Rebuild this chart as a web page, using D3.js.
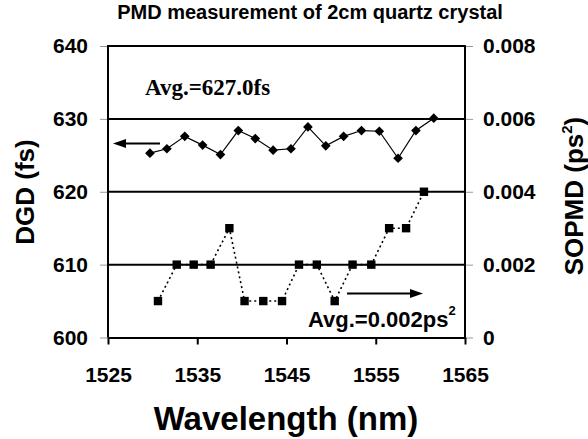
<!DOCTYPE html>
<html>
<head>
<meta charset="utf-8">
<script src="https://cdn.jsdelivr.net/npm/d3@7"></script>
<style>
  body { margin: 0; background: #fff; }
  text { font-family: "Liberation Sans", Arial, sans-serif; font-weight: bold; fill: #000; }
</style>
</head>
<body>
<script>
// wavelength (nm) and DGD (fs), left axis
var dgdWl = [1529.7, 1531.6, 1533.6, 1535.6, 1537.6, 1539.6, 1541.5, 1543.5, 1545.5,
             1547.4, 1549.4, 1551.4, 1553.4, 1555.4, 1557.5, 1559.5, 1561.5];
var dgd = [625.3, 625.9, 627.6, 626.4, 625.1, 628.4, 627.3, 625.7, 625.9,
           628.9, 626.3, 627.6, 628.4, 628.3, 624.6, 628.4, 630.1];

// wavelength (nm) and SOPMD (ps^2), right axis
var sopmdWl = [1530.6, 1532.7, 1534.6, 1536.5, 1538.6, 1540.3, 1542.4, 1544.5,
               1546.4, 1548.4, 1550.4, 1552.4, 1554.5, 1556.5, 1558.4, 1560.4];
var sopmd = [0.001, 0.002, 0.002, 0.002, 0.003, 0.001, 0.001, 0.001,
             0.002, 0.002, 0.001, 0.002, 0.002, 0.003, 0.003, 0.004];

var xTicks = [1525, 1535, 1545, 1555, 1565];
var leftTicks = [600, 610, 620, 630, 640];
var rightTicks = [0, 0.002, 0.004, 0.006, 0.008];

var W = 588, H = 439;
var plotL = 108, plotR = 465, plotT = 46, plotB = 337.5;

var svg = d3.select("body").append("svg")
    .attr("width", W).attr("height", H);
svg.append("rect").attr("width", W).attr("height", H).attr("fill", "#fff");

var x = d3.scaleLinear().domain([1525, 1565]).range([plotL, plotR]);
var yL = d3.scaleLinear().domain([600, 640]).range([plotB, plotT]);
var yR = d3.scaleLinear().domain([0, 0.008]).range([plotB, plotT]);

// title
svg.append("text")
    .attr("x", 310).attr("y", 19)
    .attr("text-anchor", "middle")
    .style("font-size", "20px")
    .text("PMD measurement of 2cm quartz crystal");

// outer gray ticks on both y axes
var la = svg.append("g").attr("transform", "translate(" + plotL + ",0)")
    .call(d3.axisLeft(yL).tickValues(leftTicks).tickSize(8).tickPadding(12)
        .tickFormat(d3.format("d")));
la.select(".domain").remove();
la.selectAll("line").attr("stroke", "#999").attr("stroke-width", 1);
la.selectAll("text").style("font-size", "21px").style("font-family", null);

var ra = svg.append("g").attr("transform", "translate(" + plotR + ",0)")
    .call(d3.axisRight(yR).tickValues(rightTicks).tickSize(8).tickPadding(10)
        .tickFormat(function(d) { return d === 0 ? "0" : d3.format(".3f")(d); }));
ra.select(".domain").remove();
ra.selectAll("line").attr("stroke", "#999").attr("stroke-width", 1);
ra.selectAll("text").style("font-size", "21px").style("font-family", null);

// horizontal grid lines (610..640)
svg.append("g").selectAll("line")
    .data(leftTicks.slice(1))
    .enter().append("line")
        .attr("x1", plotL).attr("x2", plotR)
        .attr("y1", function(d) { return yL(d); })
        .attr("y2", function(d) { return yL(d); })
        .attr("stroke", "#000").attr("stroke-width", 2);

// frame sides
svg.append("line").attr("x1", plotL).attr("x2", plotL).attr("y1", plotT - 1).attr("y2", plotB)
    .attr("stroke", "#000").attr("stroke-width", 2);
svg.append("line").attr("x1", plotR).attr("x2", plotR).attr("y1", plotT - 1).attr("y2", plotB)
    .attr("stroke", "#000").attr("stroke-width", 2);

// x axis
var xa = svg.append("g").attr("transform", "translate(0," + plotB + ")")
    .call(d3.axisBottom(x).tickValues(xTicks).tickSize(7).tickSizeOuter(0)
        .tickFormat(d3.format("d")));
xa.select(".domain").attr("stroke", "#000").attr("stroke-width", 2);
xa.selectAll("line").attr("stroke", "#000").attr("stroke-width", 2);
xa.selectAll("text").style("font-size", "21px").style("font-family", null)
    .attr("y", 44.5).attr("dy", null);

// DGD series: solid line with diamonds
var dgdPts = dgdWl.map(function(w, i) { return {x: w, y: dgd[i]}; });
svg.append("path")
    .datum(dgdPts)
    .attr("fill", "none").attr("stroke", "#000").attr("stroke-width", 1.2)
    .attr("d", d3.line().x(function(d) { return x(d.x); }).y(function(d) { return yL(d.y); }));
svg.append("g").selectAll("path")
    .data(dgdPts)
    .enter().append("path")
        .attr("d", d3.symbol().type(d3.symbolDiamond2).size(60))
        .attr("transform", function(d) { return "translate(" + x(d.x) + "," + yL(d.y) + ")"; })
        .attr("fill", "#000");

// SOPMD series: dotted line with squares
var sopPts = sopmdWl.map(function(w, i) { return {x: w, y: sopmd[i]}; });
svg.append("path")
    .datum(sopPts)
    .attr("fill", "none").attr("stroke", "#000").attr("stroke-width", 1.6)
    .attr("stroke-dasharray", "2,3")
    .attr("d", d3.line().x(function(d) { return x(d.x); }).y(function(d) { return yR(d.y); }));
svg.append("g").selectAll("rect")
    .data(sopPts)
    .enter().append("rect")
        .attr("x", function(d) { return x(d.x) - 4.2; })
        .attr("y", function(d) { return yR(d.y) - 4.2; })
        .attr("width", 8.4).attr("height", 8.4)
        .attr("fill", "#000");

// arrows
function arrow(x1, x2, y) {
    var dir = x2 > x1 ? 1 : -1;
    svg.append("line").attr("x1", x1).attr("x2", x2 - dir * 8).attr("y1", y).attr("y2", y)
        .attr("stroke", "#000").attr("stroke-width", 2);
    svg.append("path")
        .attr("d", "M" + x2 + "," + y + "L" + (x2 - dir * 13) + "," + (y - 4.5) +
            "L" + (x2 - dir * 13) + "," + (y + 4.5) + "Z")
        .attr("fill", "#000");
}
arrow(160, 113, 143.5);
arrow(347, 423, 293.5);

// annotations
svg.append("text")
    .attr("x", 145).attr("y", 94.5)
    .style("font-family", "'Liberation Serif', 'Times New Roman', serif")
    .style("font-size", "23px")
    .text("Avg.=627.0fs");

var avg2 = svg.append("text")
    .attr("x", 308).attr("y", 327)
    .style("font-size", "22px");
avg2.append("tspan").text("Avg.=0.002ps");
avg2.append("tspan").attr("dy", -12).style("font-size", "13px").text("2");

// axis titles
svg.append("text")
    .attr("x", 286).attr("y", 430)
    .attr("text-anchor", "middle")
    .style("font-size", "33px")
    .text("Wavelength (nm)");

svg.append("text")
    .attr("transform", "translate(34,192) rotate(-90)")
    .attr("text-anchor", "middle")
    .style("font-size", "26px")
    .text("DGD (fs)");

var rt = svg.append("text")
    .attr("transform", "translate(583,196) rotate(-90)")
    .attr("text-anchor", "middle")
    .style("font-size", "26px");
rt.append("tspan").text("SOPMD (ps");
rt.append("tspan").attr("dy", -11).style("font-size", "15px").text("2");
rt.append("tspan").attr("dy", 11).text(")");
</script>
</body>
</html>
